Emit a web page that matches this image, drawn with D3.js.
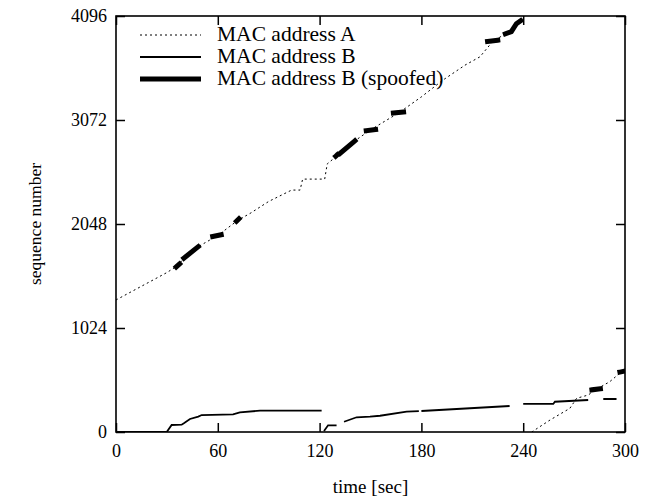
<!DOCTYPE html>
<html>
<head>
<meta charset="utf-8">
<script src="https://cdn.jsdelivr.net/npm/d3@7"></script>
<style>
  body { margin: 0; background: #fff; }
  text { font-family: "Liberation Serif", "Times New Roman", serif; fill: #000; }
</style>
</head>
<body>
<div id="chart"></div>
<script>
// ---- data (time in sec, sequence number) ----
var xTicks = [0, 60, 120, 180, 240, 300];
var yTicks = [0, 1024, 2048, 3072, 4096];
var seriesNames = ["MAC address A", "MAC address B", "MAC address B (spoofed)"];

// null = break in the line
var macA = [[0,1300],[10,1390],[20,1480],[30,1570],[36.5,1640],[40,1712],[48.5,1825],[60,1935],
  [72,2087],[79,2152],[90,2270],[103.5,2382],[108.5,2382],[110,2490],[123,2490],[124.5,2640],
  [132,2743],[140.8,2867],[150,2975],[167,3146],[180,3300],[192.7,3465],[205.7,3612],[214.5,3694],
  [222.3,3851],[230,3923],[233,3942],[236,4020],[239,4055],[241.6,4096], null,
  [245,0],[256,120],[267.5,233],[271.5,332],[278.3,364],[283,420],[291,495],[298,594],[300,610]];

var macB = [[0,0],[29.9,0],[32.8,69],[38.7,72],[40,86],[43.6,128],[48.5,151],[50.5,167],[69,174],
  [73,194],[84.9,210],[121.2,210], null,
  [122.6,10],[125,66],[130,66], null,
  [134.4,101],[141.8,145],[149.7,151],[155.6,160],[171.3,200],[178.5,205], null,
  [180,207],[232,256], null,
  [240,276],[257.7,276],[258.7,298],[278.3,315], null,
  [287.2,325],[295,325]];

var macBSpoof = [[35.5,1625],[37.5,1655], null,
  [40,1712],[48.5,1825], null,
  [57,1925],[62,1942], null,
  [71,2075],[72.5,2100], null,
  [129.5,2715],[130.5,2730], null,
  [132,2743],[140.8,2867], null,
  [147.5,2966],[153,2978], null,
  [163.5,3140],[169.5,3150], null,
  [219,3845],[225,3858], null,
  [229.5,3920],[233,3942],[236,4020],[238.5,4050], null,
  [280.5,415],[285.5,425], null,
  [297,590],[300,600]];

var W = 645, H = 499;
var L = 116, R = 625, T = 16, B = 432;

var svg = d3.select("#chart").append("svg").attr("width", W).attr("height", H);

var x = d3.scaleLinear().domain([0, 300]).range([L, R]);
var y = d3.scaleLinear().domain([0, 4096]).range([B, T]);

svg.append("clipPath").attr("id", "clip").append("rect")
  .attr("x", L).attr("y", T).attr("width", R - L).attr("height", B - T);

var line = d3.line()
  .defined(function (d) { return d != null; })
  .x(function (d) { return x(d[0]); })
  .y(function (d) { return y(d[1]); });

var plot = svg.append("g").attr("clip-path", "url(#clip)");

plot.append("path").datum(macA).attr("d", line)
  .attr("fill", "none").attr("stroke", "#000").attr("stroke-width", 1)
  .attr("stroke-dasharray", "2,3");

plot.append("path").datum(macB).attr("d", line)
  .attr("fill", "none").attr("stroke", "#000").attr("stroke-width", 1.8);

plot.append("path").datum(macBSpoof).attr("d", line)
  .attr("fill", "none").attr("stroke", "#000").attr("stroke-width", 5)
  .attr("stroke-linecap", "square");

// axes: ticks inward on all four sides
var tickLen = 9;
var fmt = d3.format("d");
svg.append("g").attr("transform", "translate(0," + B + ")")
  .call(d3.axisBottom(x).tickValues(xTicks).tickSize(-tickLen).tickPadding(12).tickFormat(fmt))
  .call(function (g) { g.select(".domain").remove(); });
svg.append("g").attr("transform", "translate(0," + T + ")")
  .call(d3.axisTop(x).tickValues(xTicks).tickSize(-tickLen).tickFormat(""))
  .call(function (g) { g.select(".domain").remove(); });
svg.append("g").attr("transform", "translate(" + L + ",0)")
  .call(d3.axisLeft(y).tickValues(yTicks).tickSize(-tickLen).tickPadding(9).tickFormat(fmt))
  .call(function (g) { g.select(".domain").remove(); });
svg.append("g").attr("transform", "translate(" + R + ",0)")
  .call(d3.axisRight(y).tickValues(yTicks).tickSize(-tickLen).tickFormat(""))
  .call(function (g) { g.select(".domain").remove(); });

svg.selectAll(".tick line").attr("stroke", "#000").attr("stroke-width", 1.5);
svg.selectAll(".tick text")
  .style("font-family", "'Liberation Serif', serif").style("font-size", "18px").attr("fill", "#000");

svg.append("rect").attr("x", L).attr("y", T).attr("width", R - L).attr("height", B - T)
  .attr("fill", "none").attr("stroke", "#000").attr("stroke-width", 1.6);

// axis titles
svg.append("text").attr("x", (L + R) / 2).attr("y", 493).attr("text-anchor", "middle")
  .style("font-size", "19px").text("time [sec]");
svg.append("text").attr("transform", "translate(41," + ((T + B) / 2) + ") rotate(-90)")
  .attr("text-anchor", "middle").style("font-size", "17.5px").text("sequence number");

// legend
var legRows = [35, 57, 79];
var legStyles = [
  { w: 1, dash: "2,3" },
  { w: 1.8, dash: null },
  { w: 5, dash: null }
];
var leg = svg.append("g");
seriesNames.forEach(function (name, i) {
  leg.append("line").attr("x1", 140).attr("x2", 201)
    .attr("y1", legRows[i]).attr("y2", legRows[i])
    .attr("stroke", "#000").attr("stroke-width", legStyles[i].w)
    .attr("stroke-dasharray", legStyles[i].dash);
  leg.append("text").attr("x", 217).attr("y", legRows[i] + 6)
    .style("font-size", "21.5px").text(name);
});
</script>
</body>
</html>
